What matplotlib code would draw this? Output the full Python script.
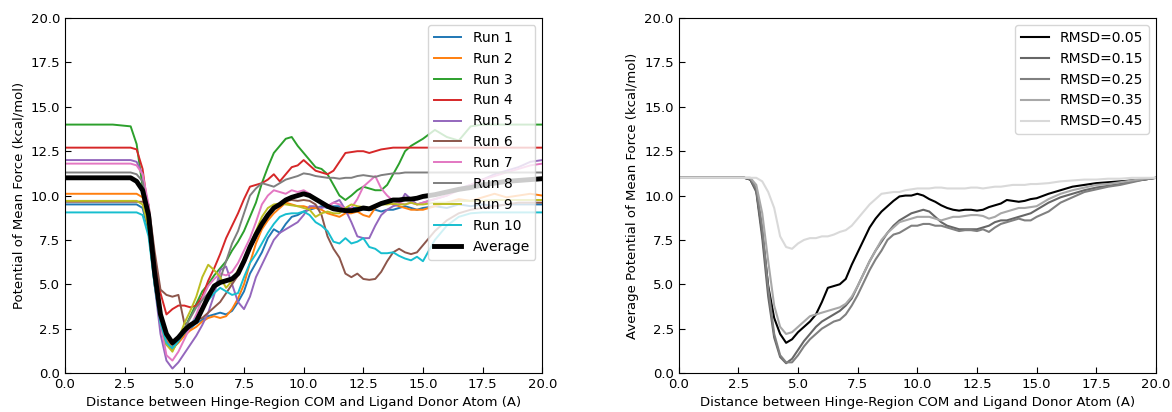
"""PMF curves for ten runs plus the average, and the RMSD-averaged PMFs."""

import matplotlib.pyplot as plt

# distance grid (A)
x = [0.0, 1.0, 2.0,
     2.75, 3.0, 3.25, 3.5, 3.75, 4.0, 4.25, 4.5, 4.75, 5.0,
     5.25, 5.5, 5.75, 6.0, 6.25, 6.5, 6.75, 7.0, 7.25, 7.5,
     7.75, 8.0, 8.25, 8.5, 8.75, 9.0, 9.25, 9.5, 9.75, 10.0,
     10.25, 10.5, 10.75, 11.0, 11.25, 11.5, 11.75, 12.0, 12.25, 12.5,
     12.75, 13.0, 13.25, 13.5, 13.75, 14.0, 14.25, 14.5, 14.75, 15.0,
     15.5, 16.0, 16.5, 17.0, 17.5, 18.0, 18.5, 19.0, 19.5, 20.0]

run1 = [9.5, 9.5, 9.5,
        9.5, 9.5, 9.3, 8.0, 5.2, 3.0, 1.8, 1.5, 1.8, 2.2,
        2.5, 2.8, 3.0, 3.2, 3.3, 3.4, 3.3, 3.5, 4.0, 4.6,
        5.6, 6.2, 6.8, 7.6, 8.1, 7.9, 8.4, 8.8, 8.9, 9.1,
        9.2, 9.3, 9.4, 9.3, 9.4, 9.4, 9.3, 9.3, 9.3, 9.2,
        9.2, 9.2, 9.1, 9.2, 9.2, 9.3, 9.4, 9.3, 9.2, 9.3,
        9.4, 9.3, 9.5, 9.4, 9.5, 9.4, 9.5, 9.5, 9.5, 9.5]
run2 = [10.1, 10.1, 10.1,
        10.1, 10.1, 9.9, 8.5, 5.5, 3.2, 1.9, 1.4, 1.7, 2.1,
        2.4, 2.6, 2.9, 3.1, 3.2, 3.1, 3.2, 3.6, 4.2, 5.0,
        6.2, 7.3, 8.1, 8.6, 9.0, 9.3, 9.6, 9.5, 9.4, 9.4,
        9.3, 9.3, 9.2, 9.0, 8.9, 8.8, 9.0, 9.0, 9.1, 8.9,
        8.8, 9.3, 9.6, 9.65, 9.5, 9.4, 9.3, 9.2, 9.2, 9.2,
        9.4, 9.6, 9.8, 9.7, 9.9, 10.1, 9.9, 10.0, 10.1, 10.0]
run3 = [14.0, 14.0, 14.0,
        13.9, 12.9, 10.5, 8.0, 5.0, 2.8, 1.6, 1.3, 1.8, 2.5,
        3.2, 3.9, 4.6, 5.0, 5.5, 5.9, 6.3, 6.9, 7.4, 8.0,
        8.8, 9.6, 10.7, 11.6, 12.4, 12.8, 13.2, 13.3, 12.8, 12.4,
        12.0, 11.6, 11.5, 11.2, 10.6, 10.0, 9.75, 10.0, 10.3, 10.5,
        10.4, 10.3, 10.3, 10.6, 11.2, 11.8, 12.5, 12.8, 13.0, 13.2,
        13.7, 13.3, 13.1, 13.9, 14.0, 14.0, 14.0, 14.0, 14.0, 14.0]
run4 = [12.7, 12.7, 12.7,
        12.7, 12.6, 11.5, 9.0, 6.5, 4.5, 3.3, 3.6, 3.8, 3.8,
        3.7, 3.8, 4.3, 5.2, 5.9, 6.7, 7.6, 8.3, 9.0, 9.8,
        10.5, 10.6, 10.7, 10.9, 11.2, 10.8, 11.2, 11.6, 11.7, 12.0,
        11.7, 11.4, 11.3, 11.2, 11.4, 11.9, 12.4, 12.45, 12.5, 12.5,
        12.4, 12.5, 12.6, 12.65, 12.7, 12.7, 12.7, 12.7, 12.7, 12.7,
        12.7, 12.7, 12.7, 12.7, 12.7, 12.7, 12.7, 12.7, 12.7, 12.7]
run5 = [12.0, 12.0, 12.0,
        12.0, 11.9, 11.2, 8.5, 5.0, 2.2, 0.7, 0.25, 0.6, 1.1,
        1.6, 2.1, 2.7, 3.4, 4.4, 5.8, 6.0, 5.0, 4.0, 3.6,
        4.3, 5.4, 6.1, 6.8, 7.5, 7.9, 8.1, 8.3, 8.5, 8.9,
        9.4, 9.4, 9.3, 9.4, 9.6, 9.75, 9.2, 8.5, 7.7, 7.6,
        7.6, 8.3, 8.9, 9.2, 9.4, 9.5, 10.1, 9.8, 9.5, 9.6,
        9.8, 10.0, 10.4, 10.6, 10.9, 11.2, 11.4, 11.6, 11.9, 12.0]
run6 = [9.65, 9.65, 9.65,
        9.65, 9.65, 9.65, 9.5, 6.9, 4.7, 4.4, 4.3, 4.4, 2.8,
        2.7, 3.0, 3.1, 3.4, 3.7, 4.0, 4.5, 5.0, 5.5, 6.3,
        7.0, 7.6, 8.3, 8.9, 9.3, 9.5, 9.7, 9.75, 9.7, 9.75,
        9.7, 9.5, 8.9, 7.7, 7.0, 6.5, 5.6, 5.4, 5.6, 5.3,
        5.25, 5.3, 5.7, 6.3, 6.8, 7.0, 6.8, 6.7, 6.8, 7.2,
        8.0, 8.6, 9.0, 9.2, 9.3, 9.4, 9.5, 9.6, 9.6, 9.6]
run7 = [11.8, 11.8, 11.8,
        11.8, 11.7, 11.2, 9.5, 6.0, 2.8, 1.0, 0.7, 1.2, 1.9,
        2.6, 3.3, 4.2, 4.9, 5.3, 5.6, 5.5, 5.7, 6.2, 6.9,
        7.6, 8.5, 9.5, 10.0, 10.3, 10.2, 10.1, 10.3, 10.2, 10.3,
        10.1, 9.8, 9.6, 9.4, 9.6, 9.5, 9.2, 9.3, 9.8, 10.5,
        10.8, 11.1, 10.4, 10.0, 9.7, 9.6, 9.5, 9.6, 9.5, 9.6,
        9.8, 10.0, 10.3, 10.6, 10.9, 11.1, 11.3, 11.5, 11.7, 11.8]
run8 = [11.3, 11.3, 11.3,
        11.3, 11.2, 10.8, 9.0, 6.2, 3.4, 1.8, 1.3, 1.8, 2.5,
        3.1, 3.7, 4.1, 4.5, 4.9, 5.3, 6.3, 7.3, 8.0, 9.0,
        10.0, 10.4, 10.7, 10.6, 10.5, 10.7, 10.9, 11.0, 11.1, 11.25,
        11.2, 11.1, 11.05, 11.0, 11.0, 10.95, 11.0, 11.0, 11.1, 11.15,
        11.1, 11.05, 11.15, 11.2, 11.25, 11.25, 11.3, 11.3, 11.3, 11.3,
        11.3, 11.3, 11.3, 11.3, 11.3, 11.3, 11.3, 11.3, 11.3, 11.3]
run9 = [9.7, 9.7, 9.7,
        9.7, 9.7, 9.5, 8.2, 5.3, 2.9, 1.6, 1.2, 1.9, 2.8,
        3.5, 4.3, 5.4, 6.1, 5.8, 5.4, 4.8, 5.2, 5.8, 6.4,
        7.2, 8.0, 8.8, 9.3, 9.5, 9.55, 9.5, 9.45, 9.4, 9.3,
        9.2, 8.8, 9.0, 9.1, 9.0, 9.0, 9.3, 9.5, 9.4, 9.35,
        9.3, 9.4, 9.5, 9.5, 9.55, 9.5, 9.5, 9.6, 9.5, 9.5,
        9.6, 9.6, 9.7, 9.7, 9.7, 9.75, 9.75, 9.75, 9.75, 9.75]
run10 = [9.05, 9.05, 9.05,
         9.05, 9.05, 8.9, 7.7, 5.0, 2.8, 1.7, 1.4, 1.8, 2.3,
         2.7, 3.1, 3.6, 4.1, 4.5, 4.8, 4.6, 4.4, 4.5, 5.4,
         6.2, 6.7, 7.3, 7.9, 8.4, 8.8, 8.95, 9.0, 9.0, 9.1,
         8.9, 8.5, 8.3, 8.0, 7.4, 7.3, 7.6, 7.3, 7.4, 7.6,
         7.1, 7.0, 6.75, 6.75, 6.8, 6.6, 6.45, 6.35, 6.55, 6.3,
         7.5, 8.3, 8.8, 9.0, 9.05, 9.05, 9.05, 9.05, 9.05, 9.05]
average = [11.0, 11.0, 11.0,
           11.0, 10.8, 10.3, 8.9, 5.7, 3.3, 2.2, 1.7, 2.0, 2.4,
           2.7, 2.9, 3.6, 4.3, 4.9, 5.1, 5.2, 5.3, 5.6, 6.3,
           7.1, 7.8, 8.4, 8.9, 9.3, 9.5, 9.75, 9.9, 10.0, 10.1,
           10.0, 9.8, 9.6, 9.4, 9.25, 9.2, 9.15, 9.15, 9.2, 9.3,
           9.25, 9.4, 9.55, 9.65, 9.75, 9.75, 9.8, 9.8, 9.85, 9.95,
           10.05, 10.2, 10.35, 10.45, 10.6, 10.7, 10.8, 10.85, 10.9, 10.95]

runs = [run1, run2, run3, run4, run5, run6, run7, run8, run9, run10]

# RMSD-averaged PMFs (right panel)
rmsd_labels = ["RMSD=0.05", "RMSD=0.15", "RMSD=0.25", "RMSD=0.35", "RMSD=0.45"]
rmsd_005 = [11.0, 11.0, 11.0,
            11.0, 10.9, 10.3, 7.9, 4.9, 3.1, 2.2, 1.7, 1.9, 2.3,
            2.6, 2.9, 3.3, 4.0, 4.8, 4.9, 5.0, 5.3, 6.1, 6.8,
            7.5, 8.2, 8.7, 9.1, 9.4, 9.7, 9.95, 10.0, 10.0, 10.1,
            10.0, 9.8, 9.65, 9.45, 9.3, 9.2, 9.15, 9.2, 9.2, 9.15,
            9.2, 9.35, 9.45, 9.55, 9.75, 9.7, 9.65, 9.7, 9.8, 9.85,
            10.1, 10.3, 10.5, 10.6, 10.7, 10.75, 10.8, 10.85, 10.9, 11.0]
rmsd_015 = [11.0, 11.0, 11.0,
            11.0, 10.9, 10.2, 7.6, 4.3, 2.0, 0.9, 0.55, 0.8, 1.3,
            1.8, 2.2, 2.6, 2.9, 3.1, 3.3, 3.5, 3.8, 4.2, 4.9,
            5.6, 6.3, 6.9, 7.4, 7.9, 8.3, 8.6, 8.8, 9.0, 9.1,
            9.2, 9.1, 8.8, 8.5, 8.3, 8.2, 8.1, 8.1, 8.1, 8.1,
            8.2, 8.3, 8.5, 8.6, 8.6, 8.7, 8.8, 8.9, 9.0, 9.2,
            9.6, 9.9, 10.1, 10.3, 10.45, 10.55, 10.65, 10.8, 10.9, 11.0]
rmsd_025 = [11.0, 11.0, 11.0,
            11.0, 10.95, 10.4, 8.2, 4.8, 2.2, 1.0, 0.6, 0.6, 1.0,
            1.5, 1.9, 2.2, 2.5, 2.7, 2.9, 3.0, 3.3, 3.8, 4.4,
            5.1, 5.8, 6.4, 6.9, 7.5, 7.8, 7.9, 8.1, 8.3, 8.3,
            8.4, 8.4, 8.3, 8.3, 8.2, 8.1, 8.0, 8.05, 8.05, 8.0,
            8.1, 7.95, 8.2, 8.4, 8.5, 8.6, 8.7, 8.6, 8.6, 8.8,
            9.1, 9.6, 9.9, 10.2, 10.35, 10.5, 10.6, 10.75, 10.9, 11.0]
rmsd_035 = [11.0, 11.0, 11.0,
            11.0, 11.0, 10.6, 9.0, 6.3, 3.8, 2.6, 2.2, 2.3, 2.6,
            2.9, 3.2, 3.3, 3.4, 3.5, 3.6, 3.7, 3.9, 4.3, 4.9,
            5.6, 6.3, 6.9, 7.5, 7.9, 8.2, 8.5, 8.6, 8.7, 8.8,
            8.8, 8.8, 8.7, 8.6, 8.7, 8.8, 8.8, 8.85, 8.9, 8.9,
            8.85, 8.7, 8.8, 9.0, 9.1, 9.2, 9.3, 9.3, 9.35, 9.4,
            9.8, 10.1, 10.3, 10.45, 10.6, 10.65, 10.75, 10.85, 10.95, 11.0]
rmsd_045 = [11.0, 11.0, 11.0,
            11.0, 11.0, 11.0, 10.8, 10.2, 9.3, 7.7, 7.1, 7.0, 7.3,
            7.5, 7.6, 7.6, 7.7, 7.7, 7.8, 7.95, 8.05, 8.3, 8.7,
            9.1, 9.5, 9.8, 10.1, 10.15, 10.2, 10.2, 10.3, 10.35, 10.4,
            10.4, 10.4, 10.45, 10.45, 10.4, 10.4, 10.4, 10.4, 10.45, 10.45,
            10.4, 10.45, 10.5, 10.5, 10.55, 10.6, 10.6, 10.6, 10.65, 10.65,
            10.7, 10.8, 10.85, 10.9, 10.9, 10.95, 10.95, 11.0, 11.0, 11.0]

rmsd_curves = [rmsd_005, rmsd_015, rmsd_025, rmsd_035, rmsd_045]
rmsd_colors = ["black", "0.4", "0.5", "0.66", "0.85"]

ticks = [0.0, 2.5, 5.0, 7.5, 10.0, 12.5, 15.0, 17.5, 20.0]
xlabel = "Distance between Hinge-Region COM and Ligand Donor Atom (A)"

plt.rcParams["font.size"] = 9.5


def style_axes(ax):
    ax.set_xlim(0, 20)
    ax.set_ylim(0, 20)
    ax.set_xticks(ticks)
    ax.set_yticks(ticks)
    ax.set_xticklabels([f"{t:.1f}" for t in ticks])
    ax.set_yticklabels([f"{t:.1f}" for t in ticks])
    ax.tick_params(direction="in", top=False, right=False, length=4)
    ax.set_xlabel(xlabel)


def main():
    fig, (ax1, ax2) = plt.subplots(1, 2, figsize=(11.72, 4.12), dpi=100)
    fig.subplots_adjust(left=0.0555, right=0.9863, bottom=0.0947, top=0.956, wspace=0.286)

    for i, r in enumerate(runs):
        ax1.plot(x, r, lw=1.4, label=f"Run {i + 1}")
    ax1.plot(x, average, color="black", lw=3.5, label="Average")
    style_axes(ax1)
    ax1.set_ylabel("Potential of Mean Force (kcal/mol)")
    ax1.legend(loc="upper right", fontsize=10)

    for curve, color, label in zip(rmsd_curves, rmsd_colors, rmsd_labels):
        ax2.plot(x, curve, color=color, lw=1.5, label=label)
    style_axes(ax2)
    ax2.set_ylabel("Average Potential of Mean Force (kcal/mol)")
    ax2.legend(loc="upper right", fontsize=10)

    fig.savefig("out.png")


if __name__ == "__main__":
    main()
